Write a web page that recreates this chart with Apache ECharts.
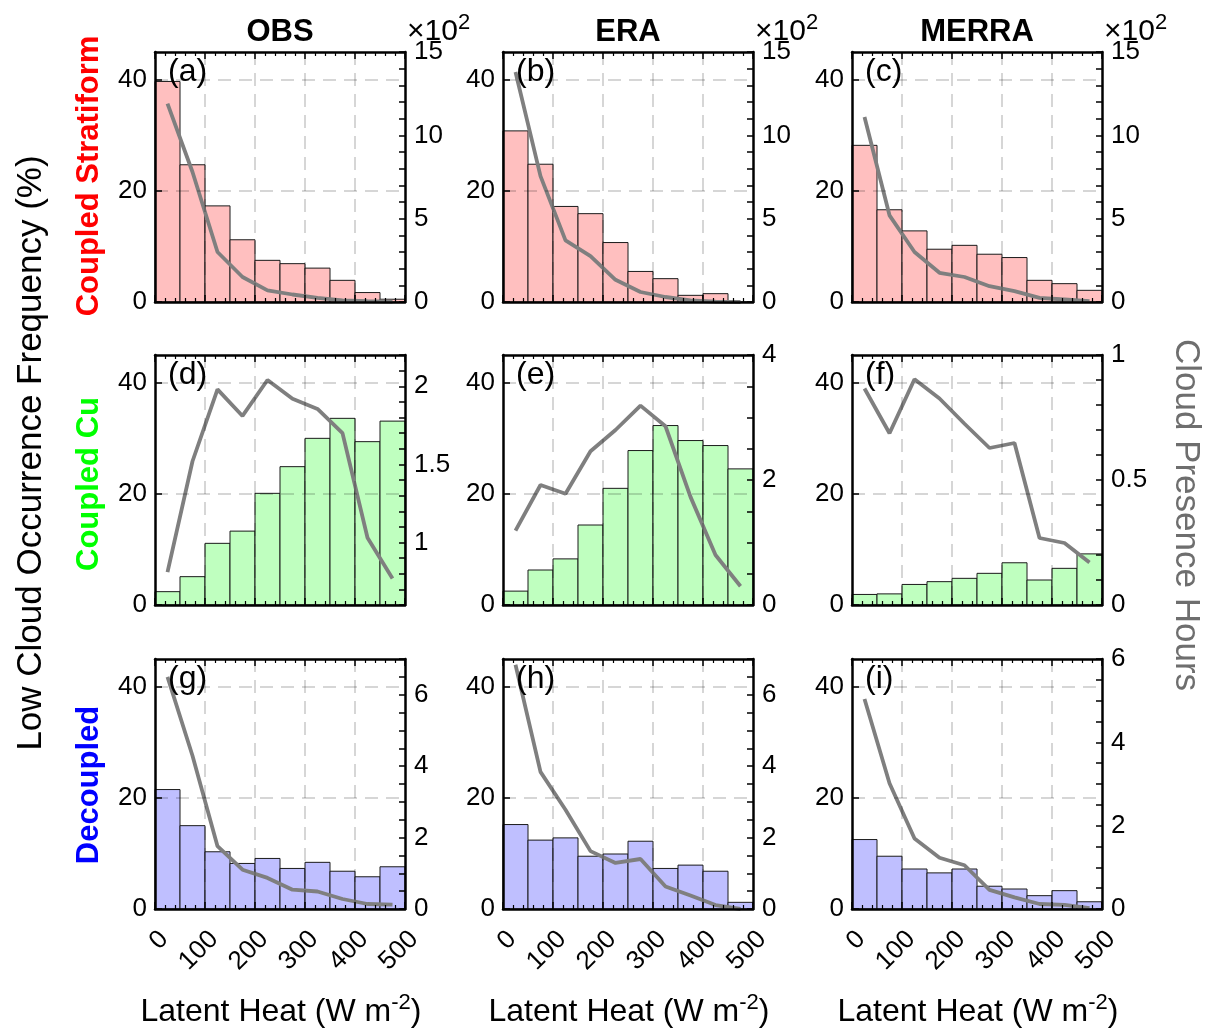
<!DOCTYPE html>
<html><head><meta charset="utf-8">
<script src="https://cdn.jsdelivr.net/npm/echarts@6/dist/echarts.min.js"></script>
<style>html,body{margin:0;padding:0;background:#fff}#c{width:1209px;height:1031px}</style>
</head><body><div id="c"></div>
<script>
// ---------------- data ----------------
const binEdges = [0, 50, 100, 150, 200, 250, 300, 350, 400, 450, 500];
const binCenters = [25, 75, 125, 175, 225, 275, 325, 375, 425, 475];
const xTickLabels = [0, 100, 200, 300, 400, 500];
const freqTickLabels = [0, 20, 40];
const columnTitles = ['OBS', 'ERA', 'MERRA'];
const rowTitles = ['Coupled Stratiform', 'Coupled Cu', 'Decoupled'];
const panelLetters = ['(a)', '(b)', '(c)', '(d)', '(e)', '(f)', '(g)', '(h)', '(i)'];

// low cloud occurrence frequency (%) per latent-heat bin
const freqA = [39.7, 24.7, 17.3, 11.2, 7.5, 6.9, 6.1, 3.9, 1.7, 0.5];
const freqB = [30.8, 24.8, 17.2, 15.9, 10.7, 5.5, 4.2, 1.2, 1.5, 0];
const freqC = [28.2, 16.6, 12.8, 9.5, 10.2, 8.6, 8.0, 3.9, 3.3, 2.1];
const freqD = [2.4, 5.1, 11.1, 13.3, 20.1, 24.9, 30.0, 33.6, 29.4, 33.1];
const freqE = [2.5, 6.3, 8.3, 14.4, 21.0, 27.8, 32.3, 29.6, 28.7, 24.5];
const freqF = [1.9, 2.0, 3.7, 4.2, 4.8, 5.7, 7.6, 4.5, 6.6, 9.2];
const freqG = [21.5, 15.0, 10.3, 8.2, 9.1, 7.3, 8.4, 6.8, 5.8, 7.6];
const freqH = [15.2, 12.4, 12.8, 9.5, 9.9, 12.2, 7.3, 7.9, 6.8, 1.2];
const freqI = [12.5, 9.5, 7.2, 6.5, 7.2, 4.1, 3.6, 2.4, 3.3, 1.3];

// cloud presence hours (top row in units of 10^2)
const hoursA = [11.9, 7.8, 3.0, 1.5, 0.7, 0.45, 0.25, 0.1, 0.05, 0.02];
const hoursB = [13.8, 7.55, 3.7, 2.75, 1.33, 0.6, 0.3, 0.1, 0.02, 0.0];
const hoursC = [11.1, 5.2, 3.0, 1.75, 1.5, 0.95, 0.65, 0.25, 0.15, 0.05];
const hoursD = [0.81, 1.52, 1.98, 1.81, 2.04, 1.92, 1.855, 1.70, 1.03, 0.77];
const hoursE = [1.19, 1.92, 1.78, 2.46, 2.8, 3.19, 2.86, 1.73, 0.8, 0.3];
const hoursF = [0.866, 0.687, 0.903, 0.826, 0.725, 0.628, 0.648, 0.268, 0.248, 0.17];
const hoursG = [6.5, 4.29, 1.76, 1.10, 0.87, 0.54, 0.49, 0.28, 0.14, 0.12];
const hoursH = [6.84, 3.84, 2.78, 1.62, 1.29, 1.40, 0.63, 0.38, 0.11, 0.0];
const hoursI = [5.04, 3.02, 1.69, 1.23, 1.05, 0.46, 0.28, 0.12, 0.10, 0.02];

// right-axis tick labels and ranges
const hoursTickLabels = [
  [0, 5, 10, 15], [0, 5, 10, 15], [0, 5, 10, 15],
  [1, 1.5, 2], [0, 2, 4], [0, 0.5, 1],
  [0, 2, 4, 6], [0, 2, 4, 6], [0, 2, 4, 6]
];
const hoursAxisMin = [0, 0, 0, 0.6, 0, 0, 0, 0, 0];
const hoursAxisMax = [15, 15, 15, 2.2, 4, 1, 7, 7, 6];
const hoursAxisStep = [1, 1, 1, 0.1, 0.5, 0.1, 0.5, 0.5, 0.5];

const panelFreq = [freqA, freqB, freqC, freqD, freqE, freqF, freqG, freqH, freqI];
const panelHours = [hoursA, hoursB, hoursC, hoursD, hoursE, hoursF, hoursG, hoursH, hoursI];

// ---------------- layout / style ----------------
const FONT = '"Liberation Sans", Arial, Helvetica, sans-serif';
const gridLefts = [155, 503, 852];
const gridTops = [52, 355, 659];
const GW = 250, GH = 250;
const barFills = ['#ffbfbf', '#bfffbf', '#bfbfff'];
const rowColors = ['#ff0000', '#00ff00', '#0000ff'];
const gridLineStyle = { color: 'rgba(0,0,0,0.16)', width: 2, type: [13, 8] };
const frameLine = { show: true, onZero: false, lineStyle: { color: '#000', width: 2.5 } };

const grids = [], xAxes = [], yAxes = [], series = [], graphics = [];

function inList(list, v) {
  for (const t of list) if (Math.abs(t - v) < 1e-6) return String(t);
  return '';
}

for (let i = 0; i < 9; i++) {
  const r = Math.floor(i / 3), c = i % 3;
  grids.push({ left: gridLefts[c], top: gridTops[r], width: GW, height: GH, containLabel: false });

  // bottom x axis
  xAxes.push({
    gridIndex: i, type: 'value', position: 'bottom', min: 0, max: 500, interval: 100, z: 5,
    axisLine: frameLine,
    axisTick: { show: true, inside: true, length: 7, lineStyle: { color: '#000', width: 1.5 } },
    minorTick: { show: true, splitNumber: 5, length: 4, lineStyle: { color: '#000', width: 1.2 } },
    splitLine: { show: true, showMinLine: false, showMaxLine: false, lineStyle: gridLineStyle },
    axisLabel: {
      show: r === 2, rotate: 45, fontSize: 26, fontFamily: FONT, color: '#000',
      margin: 17, verticalAlign: 'top',
      showMinLabel: true, showMaxLabel: true, hideOverlap: false,
      formatter: v => inList(xTickLabels, v)
    }
  });
  // top x axis (mirror box)
  xAxes.push({
    gridIndex: i, type: 'value', position: 'top', min: 0, max: 500, interval: 100, z: 5,
    axisLine: frameLine,
    axisTick: { show: true, inside: true, length: 7, lineStyle: { color: '#000', width: 1.5 } },
    minorTick: { show: true, splitNumber: 5, length: 4, lineStyle: { color: '#000', width: 1.2 } },
    splitLine: { show: false }, axisLabel: { show: false }
  });
  // left y axis (frequency)
  yAxes.push({
    gridIndex: i, type: 'value', position: 'left', min: 0, max: 45, interval: 20, z: 5,
    axisLine: frameLine,
    axisTick: { show: true, inside: true, length: 7, lineStyle: { color: '#000', width: 1.5 } },
    splitLine: { show: true, showMinLine: false, showMaxLine: false, lineStyle: gridLineStyle },
    axisLabel: { fontSize: 26, fontFamily: FONT, color: '#000', margin: 8,
      showMaxLabel: false, formatter: v => inList(freqTickLabels, v) }
  });
  // right y axis (hours)
  const tl = hoursTickLabels[i];
  yAxes.push({
    gridIndex: i, type: 'value', position: 'right',
    min: hoursAxisMin[i], max: hoursAxisMax[i], interval: hoursAxisStep[i], z: 5,
    axisLine: frameLine,
    axisTick: { show: true, inside: true, length: 6, lineStyle: { color: '#000', width: 1.5 } },
    splitLine: { show: false },
    axisLabel: { fontSize: 26, fontFamily: FONT, color: '#000', margin: 9,
      showMinLabel: true, showMaxLabel: true,
      formatter: v => inList(tl, v) }
  });

  // histogram bars
  const fill = barFills[r];
  series.push({
    type: 'custom', xAxisIndex: 2 * i, yAxisIndex: 2 * i, z: 2,
    encode: { x: [0, 1], y: 2 },
    data: panelFreq[i].map((v, k) => [binEdges[k], binEdges[k + 1], v]),
    renderItem: (params, api) => {
      const p0 = api.coord([api.value(0), api.value(2)]);
      const p1 = api.coord([api.value(1), 0]);
      return {
        type: 'rect',
        shape: { x: p0[0], y: p0[1], width: p1[0] - p0[0], height: p1[1] - p0[1] },
        style: { fill: fill, stroke: '#1a1a1a', lineWidth: 1 }
      };
    },
    silent: true, animation: false
  });
  // cloud presence hours line
  series.push({
    type: 'line', xAxisIndex: 2 * i + 1, yAxisIndex: 2 * i + 1, z: 4,
    data: panelHours[i].map((v, k) => [binCenters[k], v]),
    showSymbol: false, symbol: 'none',
    lineStyle: { color: '#7f7f7f', width: 3.8 }, itemStyle: { color: '#7f7f7f' },
    animation: false, silent: true, clip: false
  });

  // panel letter
  graphics.push({
    type: 'text', left: gridLefts[c] + 13, top: gridTops[r] + 4, z: 20,
    style: { text: panelLetters[i], fontSize: 32, fontFamily: FONT, fill: '#000' }
  });
}

// column titles and ×10² markers
for (let c = 0; c < 3; c++) {
  graphics.push({
    type: 'text', x: gridLefts[c] + GW / 2, y: 32, z: 20,
    style: { text: columnTitles[c], fontSize: 31, fontWeight: 'bold', fontFamily: FONT,
      fill: '#000', align: 'center', verticalAlign: 'middle' }
  });
  graphics.push({
    type: 'text', x: gridLefts[c] + GW + 2, y: 32, z: 20,
    style: {
      text: '{a|×10}{s|2}', align: 'left', verticalAlign: 'middle',
      rich: {
        a: { fontSize: 30, fontFamily: FONT, fill: '#000' },
        s: { fontSize: 22, fontFamily: FONT, fill: '#000', padding: [0, 0, 18, 0] }
      }
    }
  });
  // x axis title
  graphics.push({
    type: 'text', x: gridLefts[c] + GW / 2 + 1, y: 1012, z: 20,
    style: {
      text: '{a|Latent Heat (W m}{s|-2}{a|)}', align: 'center', verticalAlign: 'middle',
      rich: {
        a: { fontSize: 32, fontFamily: FONT, fill: '#000' },
        s: { fontSize: 22, fontFamily: FONT, fill: '#000', padding: [0, 0, 18, 0] }
      }
    }
  });
}

// row titles
const rowCenters = [176, 484, 785];
for (let r = 0; r < 3; r++) {
  graphics.push({
    type: 'text', x: 89, y: rowCenters[r], rotation: Math.PI / 2, z: 20,
    style: { text: rowTitles[r], fontSize: 31, fontWeight: 'bold', fontFamily: FONT,
      fill: rowColors[r], align: 'center', verticalAlign: 'middle' }
  });
}
// overall axis titles
graphics.push({
  type: 'text', x: 31, y: 453, rotation: Math.PI / 2, z: 20,
  style: { text: 'Low Cloud Occurrence Frequency (%)', fontSize: 35, fontFamily: FONT,
    fill: '#000', align: 'center', verticalAlign: 'middle' }
});
graphics.push({
  type: 'text', x: 1186, y: 515, rotation: -Math.PI / 2, z: 20,
  style: { text: 'Cloud Presence Hours', fontSize: 35, fontFamily: FONT,
    fill: '#6e6e6e', align: 'center', verticalAlign: 'middle' }
});

const chart = echarts.init(document.getElementById('c'), null, { renderer: 'canvas' });
chart.setOption({
  backgroundColor: '#ffffff',
  animation: false,
  grid: grids, xAxis: xAxes, yAxis: yAxes, series: series, graphic: graphics
});
</script></body></html>
